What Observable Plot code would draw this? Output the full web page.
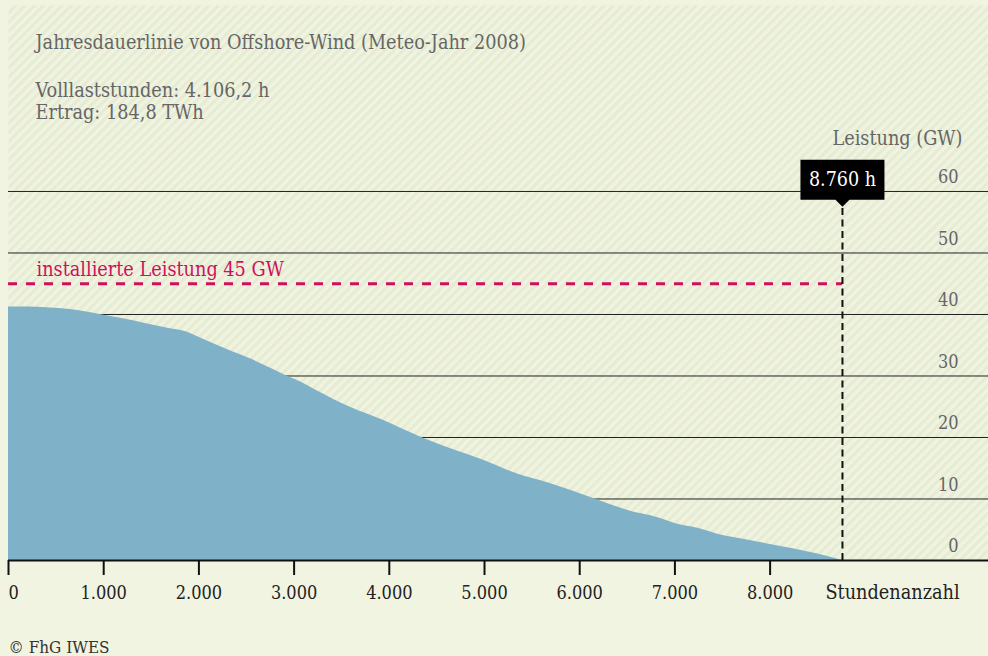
<!DOCTYPE html>
<html><head><meta charset="utf-8">
<script src="https://cdn.jsdelivr.net/npm/d3@7"></script>
<script src="https://cdn.jsdelivr.net/npm/@observablehq/plot@0.6"></script>
<style>
html,body{margin:0;padding:0;background:#f1f4e1;}
#chart svg{display:block}
</style></head><body><div id="chart"></div>
<script>
// ---- data ----
const hours = [0,200,400,650,960,1310,1660,1880,2010,2360,2540,2720,2910,3060,3240,3590,3935,4340,4640,4990,5340,5690,6160,6560,6740,6910,7000,7260,7440,7790,8140,8490,8760];
const power = [41.2,41.2,41.1,40.8,40.0,39.0,37.8,37.1,36.2,33.9,32.8,31.5,30.1,29.1,27.6,24.9,22.8,20.0,18.2,16.3,14.1,12.5,10.0,7.9,7.3,6.5,6.0,5.15,4.3,3.25,2.2,1.1,0];
const installedGW = 45;
const totalHours = 8760;
const markerGW = 57.5;
const xTicks = [0,1000,2000,3000,4000,5000,6000,7000,8000];
const xTickLabels = ["0","1.000","2.000","3.000","4.000","5.000","6.000","7.000","8.000"];
const yTicks = [0,10,20,30,40,50,60];
const yTickLabels = ["0","10","20","30","40","50","60"];
const titleText = "Jahresdauerlinie von Offshore-Wind (Meteo-Jahr 2008)";
const statLines = ["Volllaststunden: 4.106,2 h", "Ertrag: 184,8 TWh"];
const yAxisTitle = "Leistung (GW)";
const xAxisTitle = "Stundenanzahl";
const installedLabel = "installierte Leistung 45 GW";
const markerLabel = "8.760 h";
const sourceText = "© FhG IWES";

const series = hours.map((h, i) => ({h, p: power[i]}));
const marker = [{x: totalHours, y: markerGW, label: markerLabel}];
const FONT = "DejaVu Serif Condensed";
const FS = 19.7;   // running text
const FN = 18;     // axis numbers
const tickLabel = d => xTickLabels[xTicks.indexOf(d)];

// callout box shape (pointer apex at the anchor point)
const calloutSymbol = {
  draw(ctx) {
    const w = 42, p = 7, h = 40;
    ctx.moveTo(0, 0);
    ctx.lineTo(-p, -p);
    ctx.lineTo(-w, -p);
    ctx.lineTo(-w, -p - h);
    ctx.lineTo(w, -p - h);
    ctx.lineTo(w, -p);
    ctx.lineTo(p, -p);
    ctx.closePath();
  }
};

const plot = Plot.plot({
  width: 988, height: 656,
  marginLeft: 8, marginRight: 0, marginTop: 5, marginBottom: 96,
  x: {domain: [0, 10294], label: null},
  y: {domain: [0, 90.24], axis: null, label: null},
  style: {fontFamily: FONT, fontSize: FS + "px", background: "transparent", overflow: "visible"},
  marks: [
    Plot.frame({fill: "url(#hatch)", stroke: null}),
    Plot.ruleY(yTicks.filter(d => d > 0), {stroke: "#222", strokeWidth: 1}),
    Plot.areaY(series, {x: "h", y: "p", fill: "#7fb2c8", curve: "monotone-x"}),
    Plot.ruleY([installedGW], {x1: 0, x2: totalHours, stroke: "#d0105c", strokeWidth: 3, strokeDasharray: "9,9"}),
    Plot.text([installedLabel], {x: 0, y: installedGW, text: d => d, dx: 28, dy: -8, textAnchor: "start", lineAnchor: "bottom", fill: "#d0105c"}),
    Plot.ruleX([totalHours], {y1: 0, y2: markerGW, stroke: "#111", strokeWidth: 2, strokeDasharray: "7,4.5"}),
    Plot.ruleY([0], {stroke: "#111", strokeWidth: 2}),
    Plot.axisX(xTicks.slice(1), {tickSize: 15, tickPadding: 11, stroke: "#111", strokeWidth: 2, fill: "#222",
      tickFormat: tickLabel, fontSize: FN, label: null}),
    Plot.axisX(xTicks.slice(0, 1), {tickSize: 15, tickPadding: 11, stroke: "#111", strokeWidth: 2, fill: "#222",
      tickFormat: tickLabel, textAnchor: "start", fontSize: FN, label: null}),
    Plot.text(yTicks, {y: d => d, text: (d, i) => yTickLabels[i], frameAnchor: "right", dx: -30, dy: -14, textAnchor: "end", fill: "#666", fontSize: FN}),
    Plot.text([yAxisTitle], {text: d => d, frameAnchor: "top-right", dx: -26, dy: 139, textAnchor: "end", lineAnchor: "bottom", fill: "#666"}),
    Plot.text([titleText], {text: d => d, frameAnchor: "top-left", dx: 27, dy: 43.3, textAnchor: "start", lineAnchor: "bottom", fill: "#666"}),
    Plot.text([statLines.join("\n")], {text: d => d, frameAnchor: "top-left", dx: 27, dy: 113.3, lineHeight: 1.1, textAnchor: "start", lineAnchor: "bottom", fill: "#666"}),
    Plot.text([xAxisTitle], {x: totalHours, text: d => d, frameAnchor: "bottom", dx: -17, dy: 38, textAnchor: "start", lineAnchor: "bottom", fill: "#222"}),
    Plot.text([sourceText], {text: d => d, frameAnchor: "bottom-left", dx: 0, dy: 92, textAnchor: "start", lineAnchor: "bottom", fill: "#333", fontSize: 17}),
    Plot.dot(marker, {x: "x", y: "y", symbol: calloutSymbol, r: 10, fill: "#000", stroke: null}),
    Plot.text(marker, {x: "x", y: "y", text: "label", dy: -27, lineAnchor: "middle", textAnchor: "middle", fill: "#fff", fontSize: 19.5})
  ]
});
plot.insertAdjacentHTML("afterbegin",
  '<defs><pattern id="hatch" patternUnits="userSpaceOnUse" width="6.5" height="6.5" patternTransform="rotate(45)">' +
  '<rect width="6.5" height="6.5" fill="#eff3df"/><rect width="3" height="6.5" fill="#e6ebd3"/></pattern></defs>');
document.getElementById("chart").appendChild(plot);
</script></body></html>
